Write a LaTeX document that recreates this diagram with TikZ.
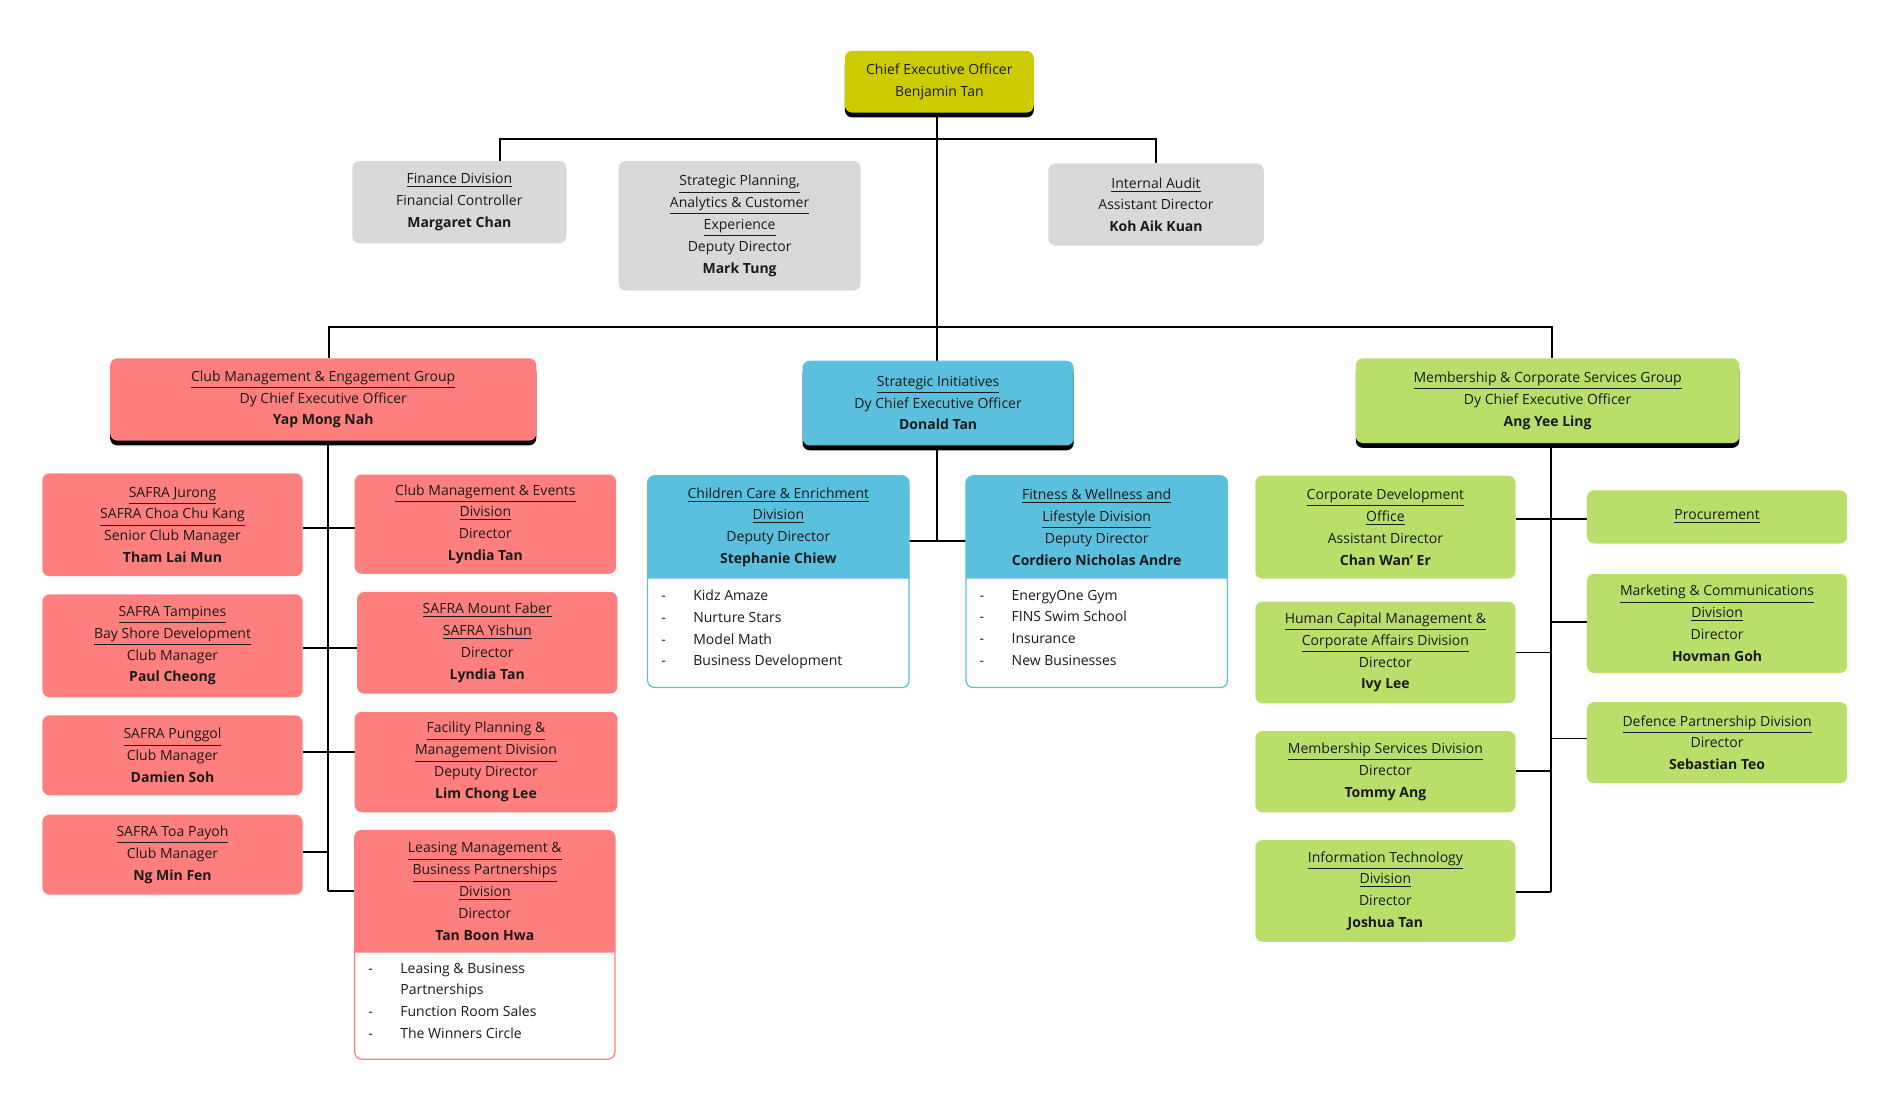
\documentclass[tikz,border=0pt]{standalone}
\usepackage{fontspec}
\setmainfont{Open Sans}
\definecolor{cy}{HTML}{CCCC00}
\definecolor{cg}{HTML}{D9D9D9}
\definecolor{cr}{HTML}{FF7F7F}
\definecolor{cb}{HTML}{5BC0DE}
\definecolor{cgr}{HTML}{B9DF6A}
\definecolor{tx}{HTML}{1A1A1A}
\newcommand\ttl[1]{\underline{#1}}
\newcommand\nm[1]{\textbf{#1}}
\newcommand\itm[1]{\makebox[16pt][l]{-}#1}
\tikzset{
  box/.style={rounded corners=3.6pt,inner sep=0pt,align=center,text=tx,font=\fontsize{7}{10.9}\selectfont},
  ln/.style={line width=0.9pt,black},
  lst/.style={inner sep=0pt,align=left,anchor=north west,text=tx,font=\fontsize{7}{10.9}\selectfont}
}
% name, x1,y1,x2,y2,color,text
\newcommand\bx[7]{\fill[#6,rounded corners=3.6pt] (#2,#3) rectangle (#4,#5);
  \node[box] (#1) at ({(#2+#4)/2},{(#3+#5)/2}) {#7};}
\newcommand\sbx[7]{\fill[black,rounded corners=3.6pt] (#2,#3+5) rectangle (#4,#5+4);\bx{#1}{#2}{#3}{#4}{#5}{#6}{#7}}
% list box: name x1 y1 x2 yh y2 color text
\newcommand\lbx[8]{\draw[#7,fill=white,rounded corners=3.6pt,line width=0.6pt] (#2,#3) rectangle (#4,#6);
  \fill[#7] (#2,#5) [rounded corners=3.6pt] -- (#2,#3) -- (#4,#3) [sharp corners] -- (#4,#5) -- cycle;
  \node[box] (#1) at ({(#2+#4)/2},{(#3+#5)/2}) {#8};}
\begin{document}
\begin{tikzpicture}[x=0.605pt,y=-0.605pt]
\useasboundingbox (0,0) rectangle (1563,917);
% connectors
\draw[ln] (774,93) -- (774,270);
\draw[ln] (413,133) |- (955,115) -- (955,135);
\draw[ln] (272,296) |- (1282,270) -- (1282,296);
\draw[ln] (774,270) -- (774,298);
\draw[ln] (271,364) -- (271,736);
\draw[ln] (250,436) -- (293,436);
\draw[ln] (250,535) -- (295,535);
\draw[ln] (250,621) -- (293,621);
\draw[ln] (250,704) -- (271,704);
\draw[ln] (271,736) -- (293,736);
\draw[ln] (774,368) -- (774,447);
\draw[ln] (751,447) -- (798,447);
\draw[ln] (1281,366) -- (1281,737);
\draw[ln] (1252,429) -- (1311,429);
\draw[ln] (1281,514) -- (1311,514);
\draw[ln] (1252,539) -- (1281,539);
\draw[ln] (1281,610) -- (1311,610);
\draw[ln] (1252,637) -- (1281,637);
\draw[ln] (1252,737) -- (1281,737);
% top
\sbx{ceo}{698}{42}{854}{93}{cy}{Chief Executive Officer\\Benjamin Tan}
\bx{fin}{291}{133}{468}{201}{cg}{\ttl{Finance Division}\\Financial Controller\\\nm{Margaret Chan}}
\bx{spa}{511}{133}{711}{240}{cg}{\ttl{Strategic Planning,}\\\ttl{Analytics \& Customer}\\\ttl{Experience}\\Deputy Director\\\nm{Mark Tung}}
\bx{ia}{866}{135}{1044}{203}{cg}{\ttl{Internal Audit}\\Assistant Director\\\nm{Koh Aik Kuan}}
% groups
\sbx{cmeg}{91}{296}{443}{364}{cr}{\ttl{Club Management \& Engagement Group}\\Dy Chief Executive Officer\\\nm{Yap Mong Nah}}
\sbx{si}{663}{298}{887}{368}{cb}{\ttl{Strategic Initiatives}\\Dy Chief Executive Officer\\\nm{Donald Tan}}
\sbx{mcsg}{1120}{296}{1437}{366}{cgr}{\ttl{Membership \& Corporate Services Group}\\Dy Chief Executive Officer\\\nm{Ang Yee Ling}}
% red
\bx{jur}{35}{391}{250}{476}{cr}{\ttl{SAFRA Jurong}\\\ttl{SAFRA Choa Chu Kang}\\Senior Club Manager\\\nm{Tham Lai Mun}}
\bx{tam}{35}{491}{250}{576}{cr}{\ttl{SAFRA Tampines}\\\ttl{Bay Shore Development}\\Club Manager\\\nm{Paul Cheong}}
\bx{pun}{35}{591}{250}{657}{cr}{\ttl{SAFRA Punggol}\\Club Manager\\\nm{Damien Soh}}
\bx{toa}{35}{673}{250}{739}{cr}{\ttl{SAFRA Toa Payoh}\\Club Manager\\\nm{Ng Min Fen}}
\bx{cme}{293}{392}{509}{474}{cr}{\ttl{Club Management \& Events}\\\ttl{Division}\\Director\\\nm{Lyndia Tan}}
\bx{mf}{295}{489}{510}{573}{cr}{\ttl{SAFRA Mount Faber}\\\ttl{SAFRA Yishun}\\Director\\\nm{Lyndia Tan}}
\bx{fp}{293}{588}{510}{671}{cr}{\ttl{Facility Planning \&}\\\ttl{Management Division}\\Deputy Director\\\nm{Lim Chong Lee}}
\lbx{lm}{293}{686}{508}{787}{875}{cr}{\ttl{Leasing Management \&}\\\ttl{Business Partnerships}\\\ttl{Division}\\Director\\\nm{Tan Boon Hwa}}
\node[lst] (lml) at (304,795) {\itm{Leasing \& Business}\\\hspace*{16pt}Partnerships\\\itm{Function Room Sales}\\\itm{The Winners Circle}};
% blue
\lbx{cce}{535}{393}{751}{478}{568}{cb}{\ttl{Children Care \& Enrichment}\\\ttl{Division}\\Deputy Director\\\nm{Stephanie Chiew}}
\node[lst] (ccel) at (546,487) {\itm{Kidz Amaze}\\\itm{Nurture Stars}\\\itm{Model Math}\\\itm{Business Development}};
\lbx{fw}{798}{393}{1014}{478}{568}{cb}{\ttl{Fitness \& Wellness and}\\\ttl{Lifestyle Division}\\Deputy Director\\\nm{Cordiero Nicholas Andre}}
\node[lst] (fwl) at (809,487) {\itm{EnergyOne Gym}\\\itm{FINS Swim School}\\\itm{Insurance}\\\itm{New Businesses}};
% green
\bx{cd}{1037}{393}{1252}{478}{cgr}{\ttl{Corporate Development}\\\ttl{Office}\\Assistant Director\\\nm{Chan Wan' Er}}
\bx{hcm}{1037}{497}{1252}{581}{cgr}{\ttl{Human Capital Management \&}\\\ttl{Corporate Affairs Division}\\Director\\\nm{Ivy Lee}}
\bx{ms}{1037}{604}{1252}{671}{cgr}{\ttl{Membership Services Division}\\Director\\\nm{Tommy Ang}}
\bx{it}{1037}{694}{1252}{778}{cgr}{\ttl{Information Technology}\\\ttl{Division}\\Director\\\nm{Joshua Tan}}
\bx{pro}{1311}{405}{1526}{449}{cgr}{\ttl{Procurement}}
\bx{mc}{1311}{474}{1526}{556}{cgr}{\ttl{Marketing \& Communications}\\\ttl{Division}\\Director\\\nm{Hovman Goh}}
\bx{dp}{1311}{580}{1526}{647}{cgr}{\ttl{Defence Partnership Division}\\Director\\\nm{Sebastian Teo}}
\end{tikzpicture}
\end{document}
